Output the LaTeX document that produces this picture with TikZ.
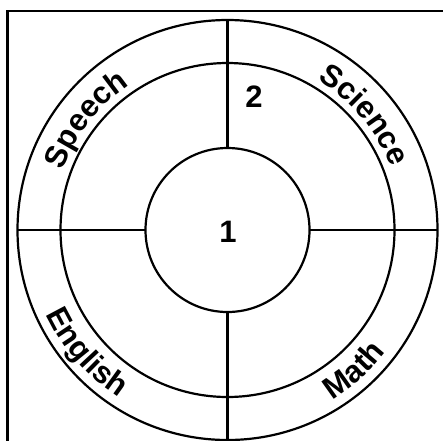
\documentclass[tikz,border=0pt]{standalone}
\usepackage{fontspec}
\setmainfont{Liberation Sans}
\usetikzlibrary{decorations.text}
\newcommand{\arcfont}{\fontsize{31}{31}\selectfont\bfseries}
\tikzset{
  ring/.style={circle, draw, line width=2.2pt, inner sep=0pt, outer sep=0pt},
  spoke/.style={line width=2.2pt},
  frameline/.style={line width=2.2pt},
  num/.style={font=\bfseries\fontsize{31}{31}\selectfont},
  arclabel/.style={decorate, decoration={text along path, text align=center,
     text={#1}}}
}
\begin{document}
\begin{tikzpicture}[x=1pt,y=-1pt]
\useasboundingbox (0,0) rectangle (443,440);
\clip (0,0) rectangle (443,440);
\coordinate (C) at (227.5,230);
% frame
\coordinate (fbl) at (7.5,450);
\coordinate (ftl) at (7.5,11);
\coordinate (ftr) at (450,11);
\draw[frameline] (fbl) -- (ftl) -- (ftr);
% rings
\node[ring, minimum size=420pt] (outer) at (C) {};
\node[ring, minimum size=334pt] (middle) at (C) {};
\node[ring, minimum size=164pt] (inner) at (C) {};
% spokes
\draw[spoke] (outer.north) -- (inner.north);
\draw[spoke] (outer.south) -- (inner.south);
\draw[spoke] (outer.west) -- (inner.west);
\draw[spoke] (outer.east) -- (inner.east);
% numbers
\node[num] (n1) at (228,232) {1};
\node[num] (n2) at (254,97) {2};
% curved labels (y axis flipped: angles measured clockwise on screen)
{\arcfont
\path[arclabel=Speech] (C) ++(-172:175) arc[start angle=-172, end angle=-112, radius=175];
\path[arclabel=Science] (C) ++(-70:175) arc[start angle=-70, end angle=-10, radius=175];
\path[arclabel=English] (C) ++(169:200) arc[start angle=169, end angle=109, radius=200];
\path[arclabel=Math] (C) ++(78:200) arc[start angle=78, end angle=18, radius=200];
}
\end{tikzpicture}
\end{document}
